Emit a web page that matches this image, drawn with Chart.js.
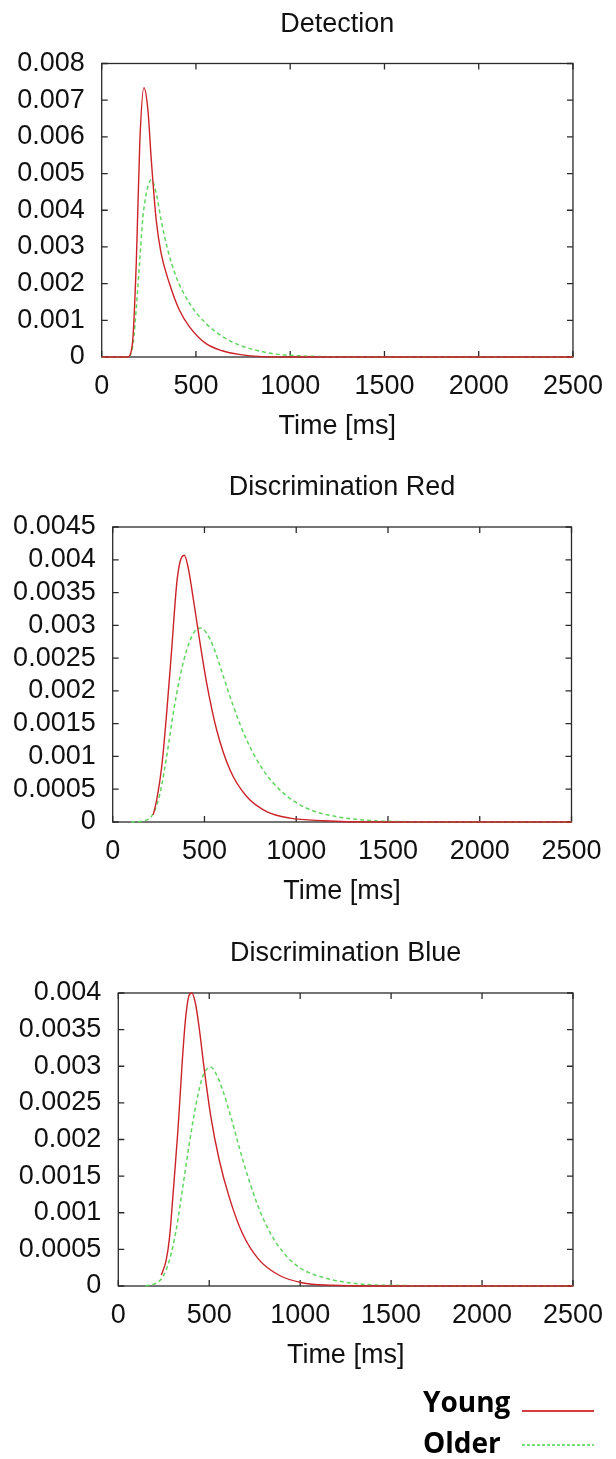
<!DOCTYPE html>
<html><head><meta charset="utf-8">
<script src="https://cdn.jsdelivr.net/npm/chart.js@4.4.1/dist/chart.umd.min.js"></script>
<style>
html,body{margin:0;padding:0;background:#fff;}
body{width:616px;height:1459px;position:relative;overflow:hidden;}
canvas{position:absolute;left:0;}
.leg{position:absolute;left:423px;font-family:"Open Sans",sans-serif;font-weight:700;font-size:28px;line-height:28px;color:#000;white-space:nowrap;}
.ln{position:absolute;left:522px;width:72px;height:2px;}
</style></head><body>
<canvas id="c1" width="616" height="460" style="top:0px"></canvas>
<canvas id="c2" width="616" height="460" style="top:463px"></canvas>
<canvas id="c3" width="616" height="460" style="top:929px"></canvas>
<div class="leg" style="top:1387px">Young</div>
<div class="leg" style="top:1428px">Older</div>
<div class="ln" style="top:1410px;background:rgb(214,60,64);"></div>
<div class="ln" style="top:1444px;background:repeating-linear-gradient(to right,rgb(120,222,120) 0 3px,transparent 3px 5px);"></div>
<script>
// ---- tick labels ----
const xTickLabels = ['0','500','1000','1500','2000','2500'];
const detYTickLabels = ['0','0.001','0.002','0.003','0.004','0.005','0.006','0.007','0.008'];
const redYTickLabels = ['0','0.0005','0.001','0.0015','0.002','0.0025','0.003','0.0035','0.004','0.0045'];
const blueYTickLabels = ['0','0.0005','0.001','0.0015','0.002','0.0025','0.003','0.0035','0.004'];

// ---- Detection ----
const detYoungT = [0, 100, 137, 163, 184, 202, 224, 245, 263, 289, 315, 359, 412, 465, 552, 640, 728, 851, 1000, 1500, 2000, 2500];
const detYoungV = [0, 0, 0, 0.00037, 0.00265, 0.00583, 0.00734, 0.00674, 0.00538, 0.00374, 0.00283, 0.00201, 0.00128, 0.00083, 0.00037, 0.00017, 0.00007, 0.00001, 0, 0, 0, 0];
const detOlderT = [0, 140, 167, 184, 202, 219, 237, 254, 263, 289, 315, 350, 394, 465, 552, 640, 728, 816, 921, 1061, 1200, 1500, 2000, 2500];
const detOlderV = [0, 0, 0.00037, 0.00137, 0.00265, 0.00383, 0.00447, 0.00478, 0.00483, 0.00447, 0.00374, 0.00293, 0.00220, 0.00147, 0.00092, 0.00056, 0.00033, 0.00019, 0.00008, 0.00003, 0.00001, 0, 0, 0];

// ---- Discrimination Red ----
const redYoungT = [221, 240, 267, 294, 321, 349, 367, 390, 412, 440, 476, 512, 567, 640, 730, 839, 966, 1148, 1400, 2000, 2500];
const redYoungV = [0.00011, 0.00034, 0.00084, 0.00166, 0.00262, 0.00364, 0.00397, 0.00407, 0.00387, 0.00339, 0.00273, 0.00212, 0.00140, 0.00079, 0.00039, 0.00016, 0.00006, 0.00002, 0, 0, 0];
const redOlderT = [100, 185, 221, 258, 294, 330, 367, 403, 440, 476, 512, 549, 603, 658, 730, 821, 930, 1057, 1203, 1367, 1512, 2000, 2500];
const redOlderV = [0, 0.00003, 0.00013, 0.00044, 0.00100, 0.00166, 0.00222, 0.00262, 0.00288, 0.00296, 0.00288, 0.00267, 0.00222, 0.00176, 0.00125, 0.00079, 0.00044, 0.00021, 0.00009, 0.00003, 0.00001, 0, 0];

// ---- Discrimination Blue ----
const blueYoungT = [237, 264, 282, 300, 328, 351, 369, 387, 404, 424, 446, 473, 509, 555, 609, 682, 773, 882, 1009, 1173, 1400, 2000, 2500];
const blueYoungV = [0.00015, 0.00036, 0.00067, 0.00122, 0.00213, 0.00304, 0.00363, 0.00395, 0.00400, 0.00386, 0.00350, 0.00295, 0.00231, 0.00172, 0.00122, 0.00072, 0.00036, 0.00015, 0.000045, 0.00001, 0, 0, 0];
const blueOlderT = [150, 209, 246, 282, 318, 355, 391, 428, 464, 491, 509, 537, 573, 619, 664, 718, 791, 882, 991, 1137, 1318, 1500, 2000, 2500];
const blueOlderV = [0, 0.00004, 0.00013, 0.00036, 0.00076, 0.00136, 0.00195, 0.00249, 0.00286, 0.00297, 0.00299, 0.00290, 0.00268, 0.00231, 0.00190, 0.00145, 0.00095, 0.00054, 0.00026, 0.00011, 0.00003, 0.00001, 0, 0];

const FONT = '"Liberation Sans", Arial, Helvetica, sans-serif';
const TXT = '#111';

const framePlugin = {
  id: 'frame',
  beforeDatasetsDraw(chart) {
    const {ctx, chartArea: a, scales: {x, y}} = chart;
    ctx.save();
    ctx.strokeStyle = '#2a2a2a';
    ctx.lineWidth = 1.3;
    ctx.strokeRect(a.left, a.top, a.right - a.left, a.bottom - a.top);
    const tl = 6;
    ctx.beginPath();
    x.ticks.forEach(t => {
      const px = x.getPixelForValue(t.value);
      ctx.moveTo(px, a.bottom); ctx.lineTo(px, a.bottom - tl);
      ctx.moveTo(px, a.top); ctx.lineTo(px, a.top + tl);
    });
    y.ticks.forEach(t => {
      const py = y.getPixelForValue(t.value);
      ctx.moveTo(a.left, py); ctx.lineTo(a.left + tl, py);
      ctx.moveTo(a.right, py); ctx.lineTo(a.right - tl, py);
    });
    ctx.stroke();
    ctx.restore();
  }
};

function pts(T, V) { return T.map((t, i) => ({x: t, y: V[i]})); }

function makeChart(cfg) {
  const font = {family: FONT, size: 27, weight: 'normal', lineHeight: 1.2};
  new Chart(document.getElementById(cfg.id), {
    type: 'line',
    data: { datasets: [
      { label: 'Young', data: pts(cfg.yT, cfg.yV), borderColor: 'rgb(204,34,40)', borderWidth: 1.4,
        pointRadius: 0, cubicInterpolationMode: 'monotone', clip: false, fill: false },
      { label: 'Older', data: pts(cfg.oT, cfg.oV), borderColor: 'rgb(95,215,95)', borderWidth: 1.5,
        borderDash: [4, 3], pointRadius: 0, cubicInterpolationMode: 'monotone', clip: false, fill: false }
    ]},
    options: {
      responsive: false, animation: false, devicePixelRatio: 1,
      layout: { padding: { left: 0, right: 616 - cfg.R, top: 0, bottom: cfg.pb } },
      plugins: {
        legend: {display: false}, tooltip: {enabled: false},
        title: { display: true, text: cfg.title, color: TXT, fullSize: false, font: font,
                 padding: {top: cfg.tpt, bottom: cfg.tpb} }
      },
      scales: {
        x: { type: 'linear', min: 0, max: 2500,
             grid: {display: false, drawTicks: false}, border: {display: false},
             ticks: { stepSize: 500, padding: 13, color: TXT, font: font, maxRotation: 0, autoSkip: false,
                      callback: (v, i) => xTickLabels[i] },
             title: { display: true, text: 'Time [ms]', color: TXT, font: font, padding: {top: 0, bottom: 4} },
             afterFit: s => { s.height = 90.2; } },
        y: { type: 'linear', min: 0, max: cfg.yMax,
             grid: {display: false, drawTicks: false}, border: {display: false},
             ticks: { stepSize: cfg.yStep, padding: 17, color: TXT, font: font, autoSkip: false,
                      callback: (v, i) => cfg.yLabels[i] },
             afterFit: s => { s.width = cfg.L; } }
      }
    },
    plugins: [framePlugin]
  });
}

makeChart({ id: 'c1', title: 'Detection', yT: detYoungT, yV: detYoungV, oT: detOlderT, oV: detOlderV,
  yMax: 0.008, yStep: 0.001, yLabels: detYTickLabels, L: 101.7, R: 576.7, pb: 12.8, tpt: 8.8, tpb: 22.3 });
makeChart({ id: 'c2', title: 'Discrimination Red', yT: redYoungT, yV: redYoungV, oT: redOlderT, oV: redOlderV,
  yMax: 0.0045, yStep: 0.0005, yLabels: redYTickLabels, L: 112.7, R: 571.5, pb: 10.8, tpt: 8.8, tpb: 22.8 });
makeChart({ id: 'c3', title: 'Discrimination Blue', yT: blueYoungT, yV: blueYoungV, oT: blueOlderT, oV: blueOlderV,
  yMax: 0.004, yStep: 0.0005, yLabels: blueYTickLabels, L: 118.3, R: 576.7, pb: 12.8, tpt: 8.8, tpb: 22.8 });
</script>
</body></html>
